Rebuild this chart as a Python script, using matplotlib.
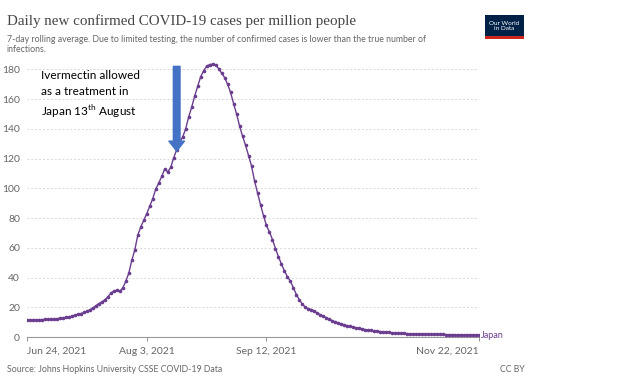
import matplotlib.pyplot as plt
import matplotlib.dates as mdates
import pandas as pd
from matplotlib.patches import Rectangle

# 7-day average, Japan, Jun 24 - Nov 22 2021
dates = pd.date_range("2021-06-24", "2021-11-22", freq="D")
cases = [
    11.5, 11.5, 11.6, 11.6, 11.7, 11.7, 11.8, 11.8, 11.9, 12.0,
    12.3, 12.6, 12.9, 13.2, 13.6, 14.0, 14.6, 15.2, 15.8, 16.5,
    17.3, 18.3, 19.5, 21.0, 22.5, 23.6, 25.0, 27.0, 29.5, 31.0,
    31.4, 30.8, 33.0, 37.5, 43.0, 51.5, 58.5, 68.5, 74.0, 78.5,
    83.0, 88.0, 93.0, 99.5, 103.5, 108.0, 113.0, 111.0, 114.0, 120.5,
    126.0, 131.0, 134.5, 140.0, 148.0, 154.5, 162.0, 168.5, 175.0, 179.0,
    182.0, 183.2, 183.5, 183.0, 180.5, 177.5, 174.5, 170.0, 164.5, 157.0,
    150.0, 142.0, 135.0, 129.0, 122.0, 115.0, 105.0, 97.0, 89.0, 81.5,
    75.0, 70.5, 65.5, 59.5, 54.0, 49.0, 44.5, 40.5, 37.5, 33.0,
    28.5, 25.0, 22.0, 20.0, 19.0, 18.5, 17.5, 16.0, 15.0, 14.0,
    13.0, 12.0, 11.0, 10.2, 9.5, 8.8, 8.2, 7.6, 7.1, 6.6,
    6.2, 5.8, 5.4, 5.0, 4.7, 4.4, 4.1, 3.9, 3.7, 3.5,
    3.3, 3.1, 2.9, 2.7, 2.6, 2.5, 2.4, 2.3, 2.2, 2.1,
    2.0, 2.0, 1.9, 1.9, 1.8, 1.8, 1.8, 1.7, 1.7, 1.7,
    1.6, 1.6, 1.6, 1.5, 1.5, 1.5, 1.4, 1.4, 1.4, 1.3, 1.3, 1.3,
]
yticks = [0, 20, 40, 60, 80, 100, 120, 140, 160, 180]
xtick_dates = pd.to_datetime(["2021-06-24", "2021-08-03", "2021-09-12", "2021-11-22"])
xtick_labels = ["Jun 24, 2021", "Aug 3, 2021", "Sep 12, 2021", "Nov 22, 2021"]

purple = "#6b3d8f"
grey = "#666666"

fig = plt.figure(figsize=(6.27, 3.86), dpi=100)
ax = fig.add_axes([0.0431, 0.1269, 0.7209, 0.7166])

ax.plot(dates, cases, "-o", color=purple, lw=1.0, ms=1.6, zorder=3)

ax.set_xlim(dates[0], dates[-1])
ax.set_ylim(0, 186)
ax.set_yticks(yticks)
ax.set_yticklabels([str(v) for v in yticks], fontsize=7.5, color=grey, family="Lato")
ax.grid(axis="y", ls=(0, (2, 2)), color="#d8d8d8", lw=0.7)
ax.tick_params(axis="y", length=0, pad=5)
ax.set_xticks(xtick_dates)
ax.set_xticklabels(xtick_labels, fontsize=7.5, color=grey, family="Lato")
ax.tick_params(axis="x", length=3, color="#999999", pad=4)
labels = ax.get_xticklabels()
labels[0].set_ha("left")
labels[-1].set_ha("right")
for s in ["top", "right", "left"]:
    ax.spines[s].set_visible(False)
ax.spines["bottom"].set_color("#999999")
ax.spines["bottom"].set_linewidth(0.8)

ax.text(1.004, cases[-1], "Japan", transform=ax.get_yaxis_transform(),
        color=purple, fontsize=6.5, family="Lato", va="center", ha="left")

# Titel und Untertitel
fig.text(0.011, 0.945, "Daily new confirmed COVID-19 cases per million people",
         family="Liberation Serif", fontsize=10.8, color="#444444", va="center")
fig.text(0.011, 0.91, "7-day rolling average. Due to limited testing, the number of confirmed cases "
         "is lower than the true number of\ninfections.", fontsize=6.3, color=grey,
         family="Lato", va="top", linespacing=1.15)

# Logo
fig.patches.append(Rectangle((0.774, 0.905), 0.061, 0.055, transform=fig.transFigure,
                             facecolor="#002147", edgecolor="none"))
fig.patches.append(Rectangle((0.774, 0.899), 0.061, 0.007, transform=fig.transFigure,
                             facecolor="#ce261e", edgecolor="none"))
fig.text(0.8045, 0.932, "Our World\nin Data", color="white", fontsize=4.6,
         ha="center", va="center", family="Lato", linespacing=1.0)

fig.text(0.011, 0.043, "Source: Johns Hopkins University CSSE COVID-19 Data",
         fontsize=6.3, color=grey, family="Lato", va="center")
fig.text(0.797, 0.043, "CC BY", fontsize=6.3, color=grey, family="Lato", va="center")

# Anmerkung Ivermectin
plt.rcParams["mathtext.fontset"] = "custom"
plt.rcParams["mathtext.rm"] = "Lato"
ax.text(0.03, 0.965, "Ivermectin allowed\nas a treatment in\nJapan 13$^{\\rm th}$ August",
        transform=ax.transAxes, fontsize=8.5, family="Lato", va="top", ha="left",
        linespacing=1.5, color="black")
arrow_day = pd.Timestamp("2021-08-13")
ax.annotate("", xy=(arrow_day, 125), xytext=(arrow_day, 182),
            arrowprops=dict(arrowstyle="simple,head_width=1.4,head_length=0.9,tail_width=0.6",
                            color="#4472c4", mutation_scale=8, shrinkA=0, shrinkB=0),
            zorder=4)

plt.savefig("out.png", dpi=100)
